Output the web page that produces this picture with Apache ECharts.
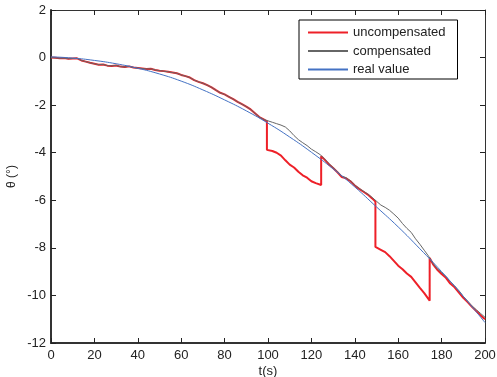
<!DOCTYPE html>
<html><head><meta charset="utf-8">
<script src="https://cdn.jsdelivr.net/npm/echarts@6/dist/echarts.min.js"></script>
<style>html,body{margin:0;padding:0;background:#fff}#c{width:497px;height:377px}</style>
</head><body><div id="c"></div>
<script>
// x tick labels and y tick labels
const xTicks = [0,20,40,60,80,100,120,140,160,180,200];
const yTicks = [-12,-10,-8,-6,-4,-2,0,2];

// compensated angle (deg), sampled every 2 s
const tComp = [0,2,4,6,8,10,12,14,16,18,20,22,24,26,28,30,32,34,36,38,40,42,44,46,48,50,52,54,56,58,60,62,64,66,68,70,72,74,76,78,80,82,84,86,88,90,92,94,96,98,100,102,104,106,108,110,112,114,116,118,120,122,124,126,128,130,132,134,136,138,140,142,144,146,148,150,152,154,156,158,160,162,164,166,168,170,172,174,176,178,180,182,184,186,188,190,192,194,196,198,200];
const comp = [0.00,-0.01,-0.03,-0.02,-0.05,-0.04,-0.03,-0.12,-0.17,-0.22,-0.26,-0.30,-0.29,-0.34,-0.35,-0.33,-0.38,-0.40,-0.37,-0.42,-0.44,-0.46,-0.48,-0.47,-0.52,-0.55,-0.57,-0.60,-0.63,-0.66,-0.73,-0.78,-0.84,-0.95,-1.02,-1.08,-1.16,-1.25,-1.37,-1.48,-1.55,-1.65,-1.75,-1.86,-1.96,-2.06,-2.18,-2.34,-2.50,-2.60,-2.66,-2.72,-2.78,-2.84,-2.92,-3.08,-3.28,-3.45,-3.58,-3.70,-3.85,-3.96,-4.08,-4.25,-4.45,-4.62,-4.80,-4.98,-5.05,-5.18,-5.36,-5.50,-5.62,-5.74,-5.88,-6.04,-6.20,-6.30,-6.42,-6.58,-6.75,-6.98,-7.18,-7.35,-7.62,-7.85,-8.10,-8.35,-8.65,-8.88,-9.04,-9.20,-9.42,-9.60,-9.80,-10.04,-10.24,-10.44,-10.60,-10.76,-10.92];

// uncompensated angle (deg); repeated times mark the vertical jumps
const tUncomp = [0,2,4,6,8,10,12,14,16,18,20,22,24,26,28,30,32,34,36,38,40,42,44,46,48,50,52,54,56,58,60,62,64,66,68,70,72,74,76,78,80,82,84,86,88,90,92,94,96,98,99.5,99.5,102,104,106,108,110,112,114,116,118,120,122,124.5,124.5,126,128,130,132,134,136,138,140,142,144,146,148,149.5,149.5,152,154,156,158,160,162,164,166,168,170,172,174.5,174.5,176,178,180,182,184,186,188,190,192,194,196,198,200];
const uncomp = [0.00,-0.01,-0.03,-0.02,-0.05,-0.04,-0.03,-0.12,-0.17,-0.22,-0.26,-0.30,-0.29,-0.34,-0.35,-0.33,-0.38,-0.40,-0.37,-0.42,-0.44,-0.46,-0.48,-0.47,-0.52,-0.55,-0.57,-0.60,-0.63,-0.66,-0.73,-0.78,-0.84,-0.95,-1.02,-1.08,-1.16,-1.25,-1.37,-1.48,-1.55,-1.65,-1.75,-1.86,-1.96,-2.06,-2.18,-2.34,-2.50,-2.60,-2.68,-3.88,-3.93,-4.00,-4.12,-4.32,-4.50,-4.62,-4.80,-4.95,-5.05,-5.20,-5.28,-5.36,-4.15,-4.28,-4.48,-4.64,-4.82,-5.02,-5.08,-5.20,-5.38,-5.52,-5.64,-5.76,-5.92,-6.05,-7.96,-8.08,-8.18,-8.35,-8.55,-8.75,-8.90,-9.08,-9.22,-9.45,-9.68,-9.90,-10.22,-8.42,-8.68,-8.92,-9.10,-9.26,-9.50,-9.66,-9.88,-10.10,-10.28,-10.48,-10.66,-10.84,-11.00];

// real value (deg), every 10 s
const tReal = [0,10,20,30,40,50,60,70,80,90,100,110,120,130,140,150,160,170,180,190,200];
const real = [0.03,-0.02,-0.12,-0.26,-0.45,-0.69,-0.99,-1.36,-1.78,-2.24,-2.76,-3.34,-3.98,-4.68,-5.44,-6.28,-7.12,-8.04,-9.00,-10.04,-11.14];

const pairs = (ts, vs) => ts.map((t, i) => [t, vs[i]]);
const font = '"Liberation Sans", Arial, sans-serif';
const txt = '#222';
const mkTick = () => ({show:true, inside:true, length:5, interval:0, lineStyle:{color:'#222', width:1, opacity:1}});

const chart = echarts.init(document.getElementById('c'));
const xCommon = {type:'value', min:xTicks[0], max:xTicks[xTicks.length-1], interval:20, splitLine:{show:false}};
const yCommon = {type:'value', min:yTicks[0], max:yTicks[yTicks.length-1], interval:2, splitLine:{show:false}};
chart.setOption({
  animation:false,
  backgroundColor:'#fff',
  grid:{left:51, right:12, top:10, bottom:34, containLabel:false, outerBoundsMode:'none'},
  legend:{
    left:299, top:20, orient:'vertical',
    padding:[6,12,3,8], itemWidth:40, itemHeight:14, itemGap:5.5,
    backgroundColor:'#fff', borderColor:'#000', borderWidth:1, borderRadius:0,
    itemStyle:{opacity:0},
    textStyle:{fontFamily:font, fontSize:13, color:txt},
    data:['uncompensated','compensated','real value']
  },
  xAxis:[
    Object.assign({}, xCommon, {position:'bottom', name:'t(s)', nameLocation:'middle', nameGap:22, nameMoveOverlap:false,
      nameTextStyle:{fontFamily:font, fontSize:13, color:txt},
      axisLine:{show:true, onZero:false, lineStyle:{color:'#333', width:2}},
      axisTick:mkTick(),
      axisLabel:{fontFamily:font, fontSize:13, color:txt, margin:6}}),
    Object.assign({}, xCommon, {position:'top',
      axisLine:{show:true, onZero:false, lineStyle:{color:'#333', width:1}},
      axisTick:mkTick(),
      axisLabel:{show:false}})
  ],
  yAxis:[
    Object.assign({}, yCommon, {position:'left', name:'θ (°)', nameLocation:'middle', nameGap:33, nameMoveOverlap:false,
      nameTextStyle:{fontFamily:font, fontSize:12, color:txt},
      axisLine:{show:true, onZero:false, lineStyle:{color:'#333', width:2}},
      axisTick:mkTick(),
      axisLabel:{fontFamily:font, fontSize:13, color:txt, margin:5}}),
    Object.assign({}, yCommon, {position:'right',
      axisLine:{show:true, onZero:false, lineStyle:{color:'#333', width:1}},
      axisTick:mkTick(),
      axisLabel:{show:false}})
  ],
  series:[
    {name:'uncompensated', type:'line', symbol:'none', data:pairs(tUncomp, uncomp),
      color:'#ee2028', lineStyle:{color:'#ee2028', width:2}},
    {name:'compensated', type:'line', symbol:'none', data:pairs(tComp, comp),
      color:'#999', lineStyle:{color:'#666', width:1}},
    {name:'real value', type:'line', symbol:'none', smooth:true, data:pairs(tReal, real),
      color:'#4472c4', lineStyle:{color:'#4472c4', width:1}}
  ]
});
</script></body></html>
